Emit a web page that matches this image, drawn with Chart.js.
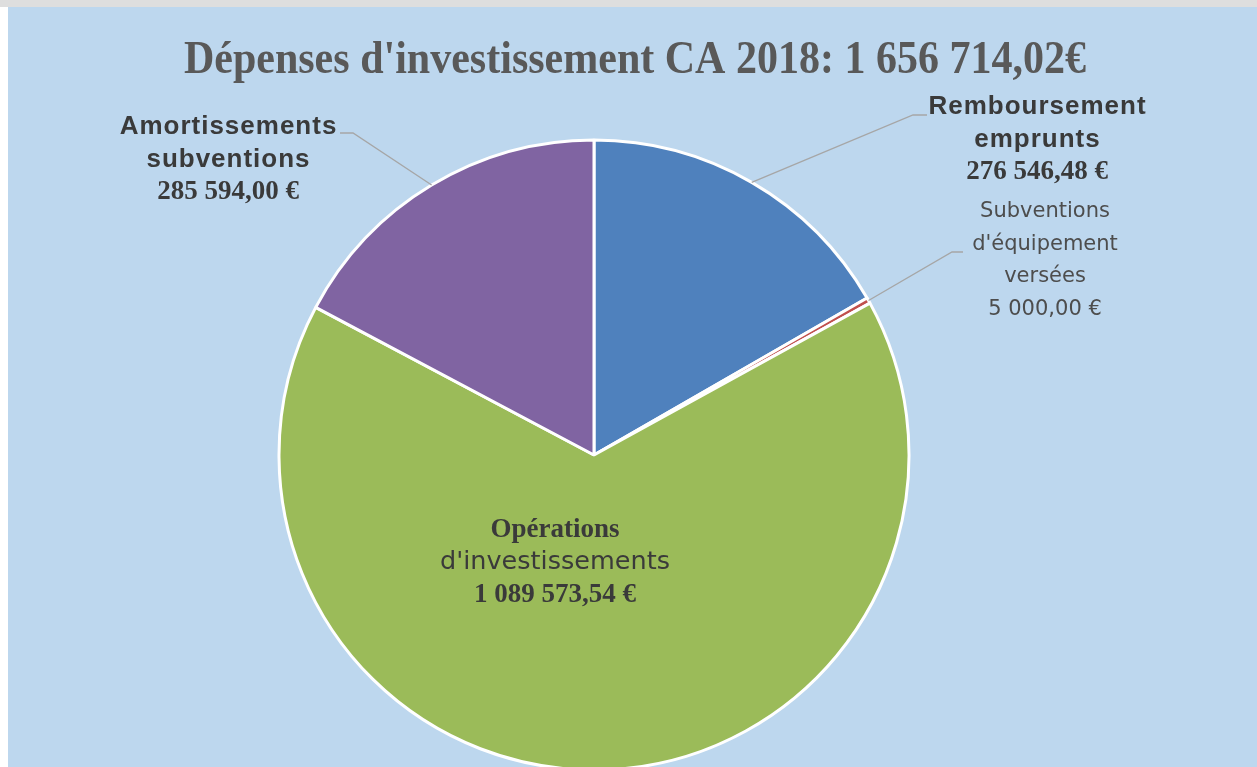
<!DOCTYPE html>
<html>
<head>
<meta charset="utf-8">
<script src="https://cdn.jsdelivr.net/npm/chart.js@4.4.0/dist/chart.umd.min.js"></script>
<style>
  body { margin: 0; background: #fff; overflow: hidden; }
  #strip { height: 7px; background: #dedede; }
  #wrap { position: absolute; left: 8px; top: 7px; width: 1249px; height: 760px; }
</style>
</head>
<body>
<div id="strip"></div>
<div id="wrap"><canvas id="myChart"></canvas></div>
<script>
const title = "Dépenses d'investissement CA 2018: 1 656 714,02€";
const categories = [
  ['Remboursement', 'emprunts'],
  ['Subventions', "d'équipement", 'versées'],
  ['Opérations', "d'investissements"],
  ['Amortissements', 'subventions']
];
const values = [276546.48, 5000.00, 1089573.54, 285594.00];
const colors = ['#4f81bd', '#c0504d', '#9bbb59', '#8064a2'];

const SANS_B = 'bold 26px "Liberation Sans"';
const SERIF_B = 'bold 27px "Liberation Serif"';
const LIGHT = '21px "DejaVu Sans"';

// label boxes (canvas coords), fonts per line, leader line anchor + elbow
const labelLayout = [
  { x: 1029, y: 100, fonts: [SANS_B, SANS_B, SERIF_B], spacing: [1, 1, 0], anchor: [919, 108], elbow: [905, 108] },
  { x: 1037, y: 205, fonts: [LIGHT, LIGHT, LIGHT, LIGHT], spacing: [0, 0, 0, 0], anchor: [955, 245], elbow: [944, 245] },
  { x: 547, y: 523, fonts: [SERIF_B, '25.5px "DejaVu Sans"', SERIF_B], spacing: [0, 0, 0] },
  { x: 220, y: 120, fonts: [SANS_B, SANS_B, SERIF_B], spacing: [1, 1, 0], anchor: [332, 126], elbow: [345, 126] }
];

function euro(v) {
  const parts = v.toFixed(2).split('.');
  const int = parts[0].replace(/\B(?=(\d{3})+(?!\d))/g, ' ');
  return int + ',' + parts[1] + ' €';
}

const bgPlugin = {
  id: 'bg',
  beforeDraw(chart) {
    const c = chart.ctx;
    c.save();
    c.fillStyle = '#bdd7ee';
    c.fillRect(0, 0, chart.width, chart.height);
    // title
    c.fillStyle = '#595959';
    c.font = 'bold 44px "Liberation Serif"';
    c.textAlign = 'center';
    c.textBaseline = 'middle';
    c.translate(627, 54);
    c.scale(0.955, 1.05);
    c.fillText(title, 0, 0);
    c.restore();
  }
};

const labelPlugin = {
  id: 'sliceLabels',
  afterDatasetsDraw(chart) {
    const c = chart.ctx;
    const arcs = chart.getDatasetMeta(0).data;
    c.save();
    arcs.forEach((arc, i) => {
      const lay = labelLayout[i];
      if (lay.anchor) {
        const p = arc.getProps(['x', 'y', 'startAngle', 'endAngle', 'outerRadius'], true);
        const mid = (p.startAngle + p.endAngle) / 2;
        c.strokeStyle = '#a6a6a6';
        c.lineWidth = 1.3;
        c.beginPath();
        c.moveTo(lay.anchor[0], lay.anchor[1]);
        c.lineTo(lay.elbow[0], lay.elbow[1]);
        c.lineTo(p.x + Math.cos(mid) * p.outerRadius, p.y + Math.sin(mid) * p.outerRadius);
        c.stroke();
      }
      const lines = categories[i].concat([euro(values[i])]);
      c.fillStyle = i === 1 ? '#4d4d4d' : '#3a3a3a';
      c.textAlign = 'center';
      c.textBaseline = 'middle';
      lines.forEach((t, k) => {
        c.font = lay.fonts[k];
        c.letterSpacing = lay.spacing[k] + 'px';
        c.fillText(t, lay.x + lay.spacing[k] / 2, lay.y + k * 32.5);
      });
    });
    c.restore();
  }
};

const ctx = document.getElementById('myChart').getContext('2d');
const myChart = new Chart(ctx, {
  type: 'pie',
  data: {
    labels: categories.map(c => c.join(' ')),
    datasets: [{
      data: values,
      backgroundColor: colors,
      borderColor: '#ffffff',
      borderWidth: 3,
      radius: 315,
      clip: false
    }]
  },
  options: {
    responsive: true,
    maintainAspectRatio: false,
    animation: false,
    layout: { padding: { left: 0, right: 77, top: 136, bottom: 0 } },
    plugins: {
      legend: { display: false },
      tooltip: { enabled: false },
      title: { display: false }
    }
  },
  plugins: [bgPlugin, labelPlugin]
});
</script>
</body>
</html>
